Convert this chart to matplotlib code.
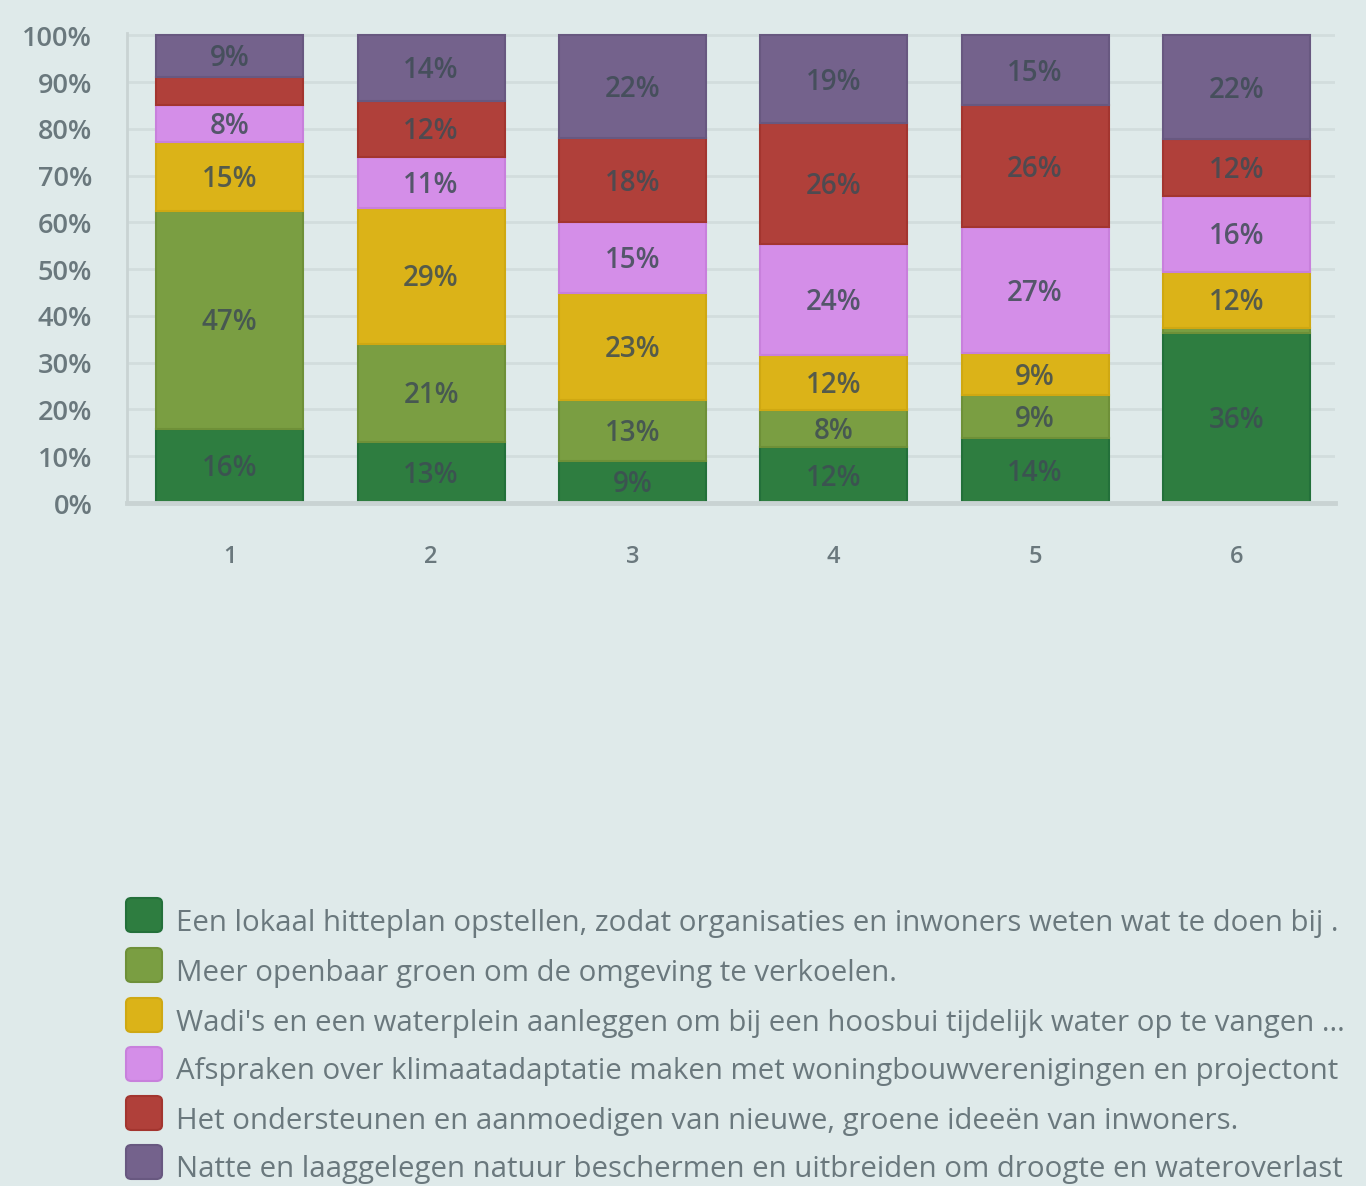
import matplotlib
matplotlib.use("Agg")
import matplotlib.pyplot as plt
import numpy as np
from matplotlib.patches import FancyBboxPatch

plt.rcParams['font.family'] = ['Open Sans', 'DejaVu Sans']

# data (percentages per answer)
groups = ['1', '2', '3', '4', '5', '6']
lokaal_hitteplan = [16, 13, 9, 12, 14, 36]
openbaar_groen = [47, 21, 13, 8, 9, 1]
wadis_waterplein = [15, 29, 23, 12, 9, 12]
afspraken = [8, 11, 15, 24, 27, 16]
groene_ideeen = [6, 12, 18, 26, 26, 12]
natte_natuur = [9, 14, 22, 19, 15, 22]

series = [lokaal_hitteplan, openbaar_groen, wadis_waterplein,
          afspraken, groene_ideeen, natte_natuur]
# legend texts as far as they are visible in the original
labels = [
    "Een lokaal hitteplan opstellen, zodat organisaties en inwoners weten wat te doen bij .",
    "Meer openbaar groen om de omgeving te verkoelen.",
    "Wadi's en een waterplein aanleggen om bij een hoosbui tijdelijk water op te vangen ...",
    "Afspraken over klimaatadaptatie maken met woningbouwverenigingen en projectont",
    "Het ondersteunen en aanmoedigen van nieuwe, groene ideeën van inwoners.",
    "Natte en laaggelegen natuur beschermen en uitbreiden om droogte en wateroverlast",
]
colors = ['#2e7d40', '#7a9e42', '#dbb318', '#d48ee8', '#b0403a', '#74628c']
edges = ['#23703a', '#6e9038', '#cfa812', '#c880dc', '#a3352f', '#685880']

bg = '#dfeaea'
txt = '#6a787d'

fig = plt.figure(figsize=(13.66, 11.86), dpi=100, facecolor=bg)
ax = fig.add_axes([127 / 1366, 1 - 503 / 1186, 1208 / 1366, 470 / 1186])
ax.set_facecolor(bg)

data = np.array(series, dtype=float)
totals = data.sum(axis=0)
x = np.arange(len(groups)) + 0.01
bottom = np.zeros(len(groups))
for vals, col, ec in zip(data, colors, edges):
    h = vals / totals * 100
    ax.bar(x, h, bottom=bottom, width=0.73, color=col, edgecolor=ec,
           linewidth=1.5, zorder=3)
    for xi, v, b, hh in zip(x, vals, bottom, h):
        if v >= 7:
            ax.text(xi, b + hh / 2 - 0.6, f"{int(v)}%", ha='center', va='center',
                    fontsize=20, fontweight='semibold', color='#3e4c54',
                    alpha=0.85, zorder=4)
    bottom += h

ax.set_xlim(-0.5, 5.5)
ax.set_ylim(0, 100.5)
ax.set_yticks(np.arange(0, 101, 10))
ax.set_yticklabels([f"{v}%" for v in range(0, 101, 10)])
ax.set_xticks(x)
ax.set_xticklabels(groups)
ax.tick_params(axis='y', length=0, pad=25, labelsize=19.5, labelcolor=txt)
ax.tick_params(axis='x', length=0, pad=30, labelsize=17, labelcolor=txt)
for lab in ax.get_yticklabels() + ax.get_xticklabels():
    lab.set_fontweight('semibold')

ax.grid(axis='y', color='#d2dddd', linewidth=2, zorder=0)
for s in ['top', 'right']:
    ax.spines[s].set_visible(False)
ax.spines['left'].set_color('#c9d3d3')
ax.spines['left'].set_linewidth(2)
ax.spines['bottom'].set_color('#c9d3d3')
ax.spines['bottom'].set_linewidth(3.5)
ax.spines['bottom'].set_zorder(5)

# legend drawn by hand so it sits like the original
W, H = 1366, 1186
row_y = [915, 965, 1015, 1064, 1113, 1162]
for ry, col, ec, lab in zip(row_y, colors, edges, labels):
    box = FancyBboxPatch((126 / W, 1 - (ry + 17) / H), 36 / W, 34 / H,
                         boxstyle="round,pad=0,rounding_size=0.004",
                         transform=fig.transFigure, facecolor=col,
                         edgecolor=ec, linewidth=1.5)
    fig.patches.append(box)
    fig.text(176 / W, 1 - (ry + 8) / H, lab, ha='left', va='center',
             fontsize=21.2, color=txt)

fig.savefig('out.png', dpi=100, facecolor=bg)
